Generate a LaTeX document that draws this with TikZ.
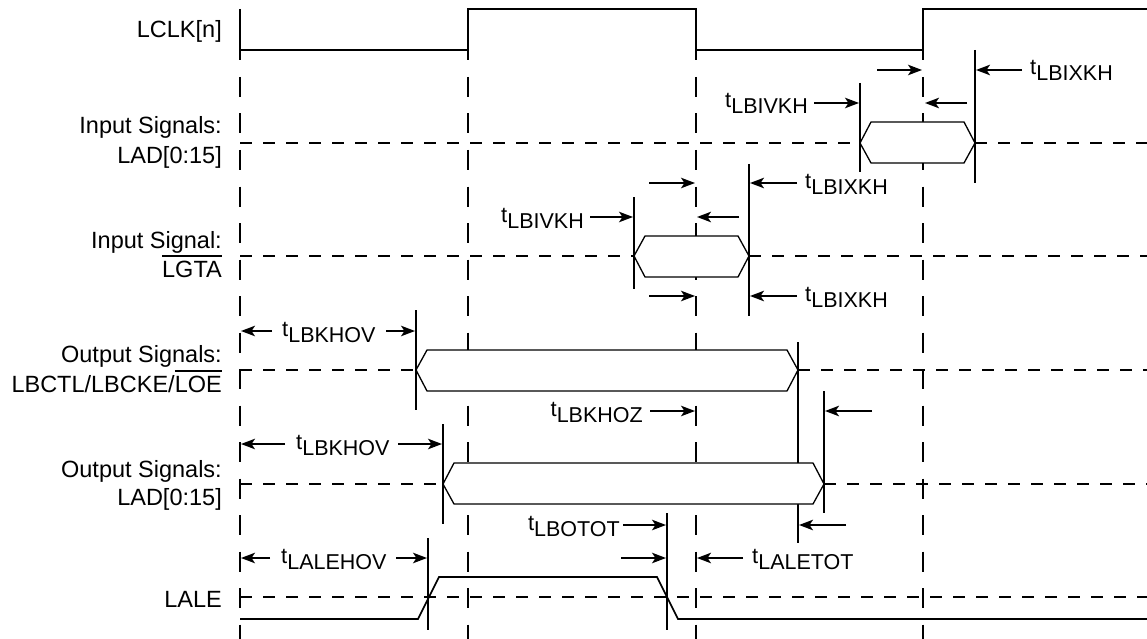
\documentclass[tikz,border=0pt]{standalone}
\usepackage{fontspec}
\setmainfont{Liberation Sans}
\usetikzlibrary{arrows.meta}

\newcommand{\tname}[1]{{\fontsize{22}{22}\selectfont t\raisebox{-6pt}{\fontsize{21.5}{21.5}\selectfont #1}}}
\newcommand{\ovl}[1]{\setbox0\hbox{#1}\rlap{\rule[\dimexpr\ht0+4pt\relax]{\wd0}{1.5pt}}\box0}

\begin{document}
\begin{tikzpicture}[x=1pt, y=-1pt, >={Stealth[length=14pt,width=10.5pt,inset=3.5pt]},
  sig/.style={line width=2pt},
  hgrid/.style={line width=1.8pt, dash pattern=on 12pt off 11pt},
  vgrid/.style={line width=1.8pt, dash pattern=on 20pt off 16.5pt},
  bus/.style={line width=1.3pt, fill=white},
  tmark/.style={line width=1.8pt},
  dim/.style={->, line width=1.8pt},
  lbl/.style={anchor=base east, inner sep=0pt, font=\fontsize{23.5}{23.5}\selectfont},
  tlbl/.style={inner sep=0pt}]
\useasboundingbox (0,0) rectangle (1147,639);
% clock edges
\draw[vgrid] (240,77) -- (240,639);
\draw[vgrid] (468,77) -- (468,639);
\draw[vgrid] (696,77) -- (696,639);
\draw[vgrid] (923,77) -- (923,639);
% idle levels
\draw[hgrid] (240,143) -- (860,143);
\draw[hgrid] (975,143) -- (1147,143);
\draw[hgrid] (240,256) -- (634,256);
\draw[hgrid] (749,256) -- (1147,256);
\draw[hgrid] (240,370) -- (416,370);
\draw[hgrid] (798,370) -- (1147,370);
\draw[hgrid] (240,484) -- (443,484);
\draw[hgrid] (824,484) -- (1147,484);
\draw[hgrid] (240,597) -- (1147,597);
% timing marks
\draw[tmark] (860,83) -- (860,172);
\draw[tmark] (975,50) -- (975,183);
\draw[tmark] (634,197) -- (634,289);
\draw[tmark] (749,164) -- (749,316);
\draw[tmark] (416,310) -- (416,410);
\draw[tmark] (798,342) -- (798,543);
\draw[tmark] (824,391) -- (824,513);
\draw[tmark] (443,424) -- (443,524);
\draw[tmark] (667,513) -- (667,630);
\draw[tmark] (428,538) -- (428,630);
% clock
\draw[sig] (240,50) -- (468,50) -- (468,9) -- (696,9) -- (696,50) -- (923,50) -- (923,9) -- (1147,9);
\draw[sig] (240,9) -- (240,60);
\draw[sig] (468,50) -- (468,60);
\draw[sig] (696,50) -- (696,60);
\draw[sig] (923,50) -- (923,60);
% valid windows
\draw[bus] (860,143) -- (871,122) -- (964,122) -- (975,143) -- (964,163) -- (871,163) -- cycle;
\draw[bus] (634,256) -- (645,236) -- (738,236) -- (749,256) -- (738,277) -- (645,277) -- cycle;
\draw[bus] (416,370) -- (427,350) -- (787,350) -- (798,370) -- (787,391) -- (427,391) -- cycle;
\draw[bus] (443,484) -- (454,463) -- (813,463) -- (824,484) -- (813,504) -- (454,504) -- cycle;
% LALE
\draw[line width=1.6pt] (240,619) -- (418,619) -- (439,577) -- (657,577) -- (678,619) -- (1147,619);
% signal names
\node[lbl] (lclk) at (222,38) {LCLK[n]};
\node[lbl] (inlada) at (222,134) {Input Signals:};
\node[lbl] (inladb) at (222,164) {LAD[0:15]};
\node[lbl] (lgtaa) at (222,248) {Input Signal:};
\node[lbl] (lgtab) at (222,277) {\ovl{LGTA}};
\node[lbl] (lbctla) at (222,362) {Output Signals:};
\node[lbl] (lbctlb) at (222,392) {LBCTL/LBCKE/\ovl{LOE}};
\node[lbl] (outlada) at (222,477) {Output Signals:};
\node[lbl] (outladb) at (222,505) {LAD[0:15]};
\node[lbl] (lale) at (222,607) {LALE};
% input LAD
\draw[dim] (877,70) -- (922,70);
\draw[dim] (1022,70) -- (976,70);
\draw[dim] (814,103) -- (859,103);
\draw[dim] (967,103) -- (925,103);
\node[tlbl, anchor=base west] (ixa) at (1030,75) {\tname{LBIXKH}};
\node[tlbl, anchor=base east] (iva) at (808,108) {\tname{LBIVKH}};
% input LGTA
\draw[dim] (649,183) -- (695,183);
\draw[dim] (797,183) -- (750,183);
\draw[dim] (590,217) -- (633,217);
\draw[dim] (739,217) -- (697,217);
\draw[dim] (649,296) -- (695,296);
\draw[dim] (797,296) -- (750,296);
\node[tlbl, anchor=base west] (ixb) at (805,188) {\tname{LBIXKH}};
\node[tlbl, anchor=base east] (ivb) at (584,222) {\tname{LBIVKH}};
\node[tlbl, anchor=base west] (ixc) at (805,301) {\tname{LBIXKH}};
% output LBCTL
\draw[dim] (272,331) -- (241,331);
\draw[dim] (386,331) -- (415,331);
\draw[dim] (650,411) -- (695,411);
\draw[dim] (872,411) -- (825,411);
\node[tlbl, anchor=base west] (ova) at (282,336) {\tname{LBKHOV}};
\node[tlbl, anchor=base east] (oz) at (643,416) {\tname{LBKHOZ}};
% output LAD
\draw[dim] (285,444) -- (241,444);
\draw[dim] (398,444) -- (442,444);
\draw[dim] (623,525) -- (666,525);
\draw[dim] (846,525) -- (799,525);
\node[tlbl, anchor=base west] (ovb) at (296,449) {\tname{LBKHOV}};
\node[tlbl, anchor=base east] (otot) at (620,530) {\tname{LBOTOT}};
% LALE
\draw[dim] (270,558) -- (241,558);
\draw[dim] (396,558) -- (427,558);
\draw[dim] (621,558) -- (666,558);
\draw[dim] (743,558) -- (697,558);
\node[tlbl, anchor=base west] (lov) at (281,563) {\tname{LALEHOV}};
\node[tlbl, anchor=base west] (ltot) at (752,563) {\tname{LALETOT}};
\end{tikzpicture}
\end{document}
